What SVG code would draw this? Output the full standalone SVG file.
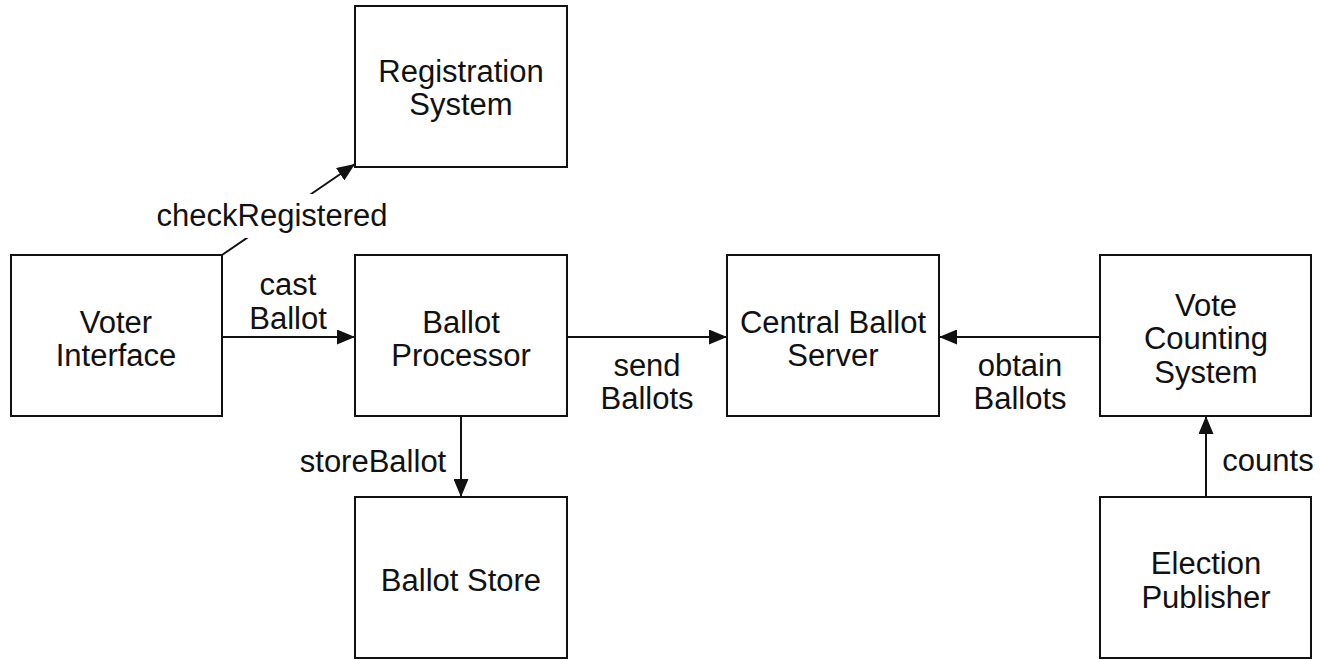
<svg xmlns="http://www.w3.org/2000/svg" width="1320" height="660" viewBox="0 0 1320 660">
  <style>
    .box { fill: #ffffff; stroke: #111111; stroke-width: 2; }
    .lbl { font-family: "Liberation Sans", Arial, Helvetica, sans-serif; font-size: 31px; fill: #111111; text-anchor: middle; }
    .edge { stroke: #111111; stroke-width: 2; fill: none; marker-end: url(#arrow); }
    .bg { fill: #ffffff; }
  </style>
  <defs>
    <marker id="arrow" markerUnits="userSpaceOnUse" markerWidth="19" markerHeight="15" refX="18" refY="7.5" orient="auto">
      <path d="M0,0 L18,7.5 L0,15 Z" fill="#111111"/>
    </marker>
  </defs>
  <rect width="1320" height="660" fill="#ffffff"/>

  <!-- connectors -->
  <g id="connectors">
    <line class="edge" x1="222" y1="255" x2="355" y2="164"/>
    <rect class="bg" x="150" y="194" width="245" height="44"/>
    <text class="lbl" x="272" y="226">checkRegistered</text>

    <line class="edge" x1="223" y1="337" x2="355" y2="337"/>
    <text class="lbl" x="288" y="295">cast</text>
    <text class="lbl" x="288" y="329">Ballot</text>

    <line class="edge" x1="567" y1="337" x2="727" y2="337"/>
    <text class="lbl" x="647" y="376">send</text>
    <text class="lbl" x="647" y="409">Ballots</text>

    <line class="edge" x1="1100" y1="337" x2="939" y2="337"/>
    <text class="lbl" x="1020" y="376">obtain</text>
    <text class="lbl" x="1020" y="409">Ballots</text>

    <line class="edge" x1="461" y1="416" x2="461" y2="497"/>
    <text class="lbl" x="373" y="472">storeBallot</text>

    <line class="edge" x1="1206" y1="497" x2="1206" y2="416"/>
    <text class="lbl" x="1268" y="471">counts</text>
  </g>

  <g id="registration-system">
    <rect class="box" x="355" y="6" width="212" height="161"/>
    <text class="lbl" x="461" y="82">Registration</text>
    <text class="lbl" x="461" y="115">System</text>
  </g>

  <g id="voter-interface">
    <rect class="box" x="11" y="255" width="211" height="161"/>
    <text class="lbl" x="116" y="333">Voter</text>
    <text class="lbl" x="116" y="366">Interface</text>
  </g>

  <g id="ballot-processor">
    <rect class="box" x="355" y="255" width="212" height="161"/>
    <text class="lbl" x="461" y="333">Ballot</text>
    <text class="lbl" x="461" y="366">Processor</text>
  </g>

  <g id="central-ballot-server">
    <rect class="box" x="727" y="255" width="212" height="161"/>
    <text class="lbl" x="833" y="333">Central Ballot</text>
    <text class="lbl" x="833" y="366">Server</text>
  </g>

  <g id="vote-counting-system">
    <rect class="box" x="1100" y="255" width="211" height="161"/>
    <text class="lbl" x="1206" y="316">Vote</text>
    <text class="lbl" x="1206" y="349">Counting</text>
    <text class="lbl" x="1206" y="383">System</text>
  </g>

  <g id="ballot-store">
    <rect class="box" x="355" y="497" width="212" height="161"/>
    <text class="lbl" x="461" y="591">Ballot Store</text>
  </g>

  <g id="election-publisher">
    <rect class="box" x="1100" y="497" width="211" height="161"/>
    <text class="lbl" x="1206" y="574">Election</text>
    <text class="lbl" x="1206" y="608">Publisher</text>
  </g>
</svg>
